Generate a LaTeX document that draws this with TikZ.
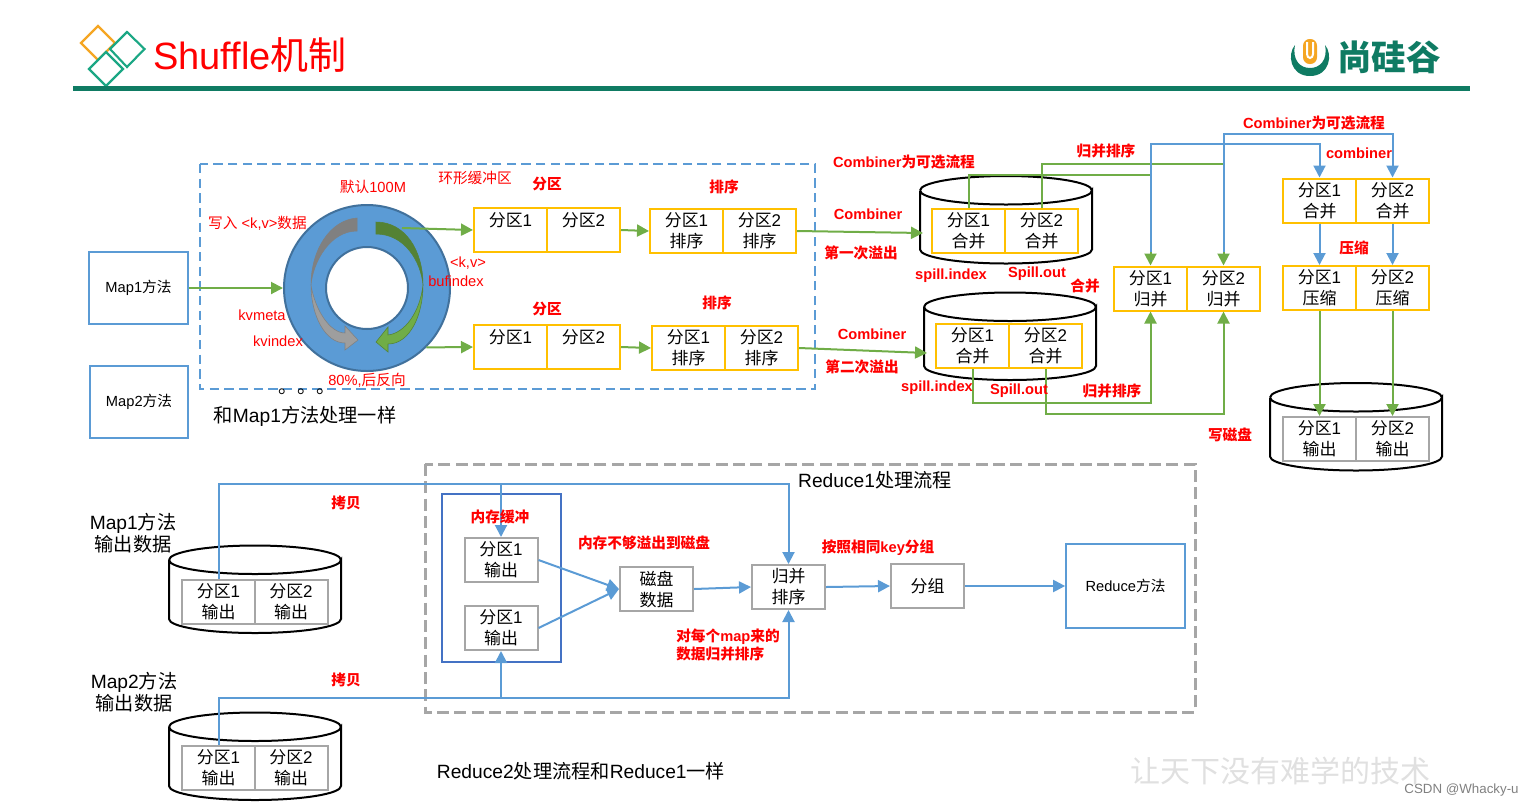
\documentclass[tikz,border=0pt]{standalone}
\usepackage{fontspec}
\setmainfont{Liberation Sans}
\newfontfamily\cjk{Noto Sans CJK SC}
\usetikzlibrary{arrows.meta}
\definecolor{tipblue}{HTML}{5B9BD5}
\definecolor{ringedge}{HTML}{41719C}
\definecolor{tipgreen}{HTML}{70AD47}
\definecolor{darkleaf}{HTML}{548235}
\definecolor{partyellow}{HTML}{FFC000}
\definecolor{boxgray}{HTML}{A6A6A6}
\definecolor{memblue}{HTML}{4472C4}
\definecolor{headline}{HTML}{0F7B63}
\definecolor{markorange}{HTML}{F5A623}
\definecolor{markteal}{HTML}{1BA784}
\newcommand{\zh}[1]{{\cjk #1}}
\newcommand{\partlabel}[2]{\zh{分区}#1\\\zh{#2}}
\newcommand{\diskshape}[2]{
\draw [line width=1.5pt,fill=white] (#1-86,#2) -- (#1-86,#2+59) arc (180:0:86 and 14) -- (#1+86,#2) arc (0:180:86 and 14);
\draw [line width=1.5pt] (#1-86,#2) arc (180:360:86 and 14.5);
}
\tikzset{
partbox/.style={draw=partyellow,line width=1.5pt,fill=white,minimum width=54.75pt,minimum height=33pt,inner sep=0pt,align=center,font=\fontsize{12.7}{15.75}\selectfont},
grayline/.style={partbox,draw=boxgray},
mapbox/.style={draw=tipblue,line width=1.5pt,minimum width=74pt,minimum height=54pt,inner sep=0pt,align=center,font=\fontsize{11}{14}\selectfont},
gline/.style={draw=tipgreen,line width=1.5pt},
bline/.style={draw=tipblue,line width=1.5pt},
garrow/.style={gline,-{Triangle[length=9pt,width=9pt]}},
barrow/.style={bline,-{Triangle[length=9pt,width=9pt]}},
redtext/.style={text=red,inner sep=0pt,align=left,font=\fontsize{11}{14}\selectfont},
redbold/.style={text=red,inner sep=0pt,align=left,font=\fontsize{11}{14}\selectfont\bfseries},
blacktext/.style={inner sep=0pt,align=center,font=\fontsize{14.4}{16.5}\selectfont},
}
\begin{document}
\begin{tikzpicture}[x=0.75pt,y=-0.75pt]
\useasboundingbox (0,0) rectangle (1531,808);

\draw [draw=markorange,line width=1.6pt] (98,26) -- (115,43) -- (98,60) -- (81,43) -- cycle;
\draw [draw=markteal,line width=1.6pt] (127,32) -- (144.5,49) -- (127,67) -- (110,49) -- cycle;
\draw [draw=markteal,line width=1.6pt,fill=white] (106,52) -- (123,69) -- (106,86) -- (89,69) -- cycle;
\node [text=red,inner sep=0pt,font=\fontsize{28.5}{30}\selectfont] (title) at (250,55) {Shuffle\zh{机制}};
\draw [draw=headline,line width=3.75pt] (73,88.5) -- (1470,88.5);

\fill [headline] (1295,45) .. controls (1287,54) and (1290,76) .. (1310,76) .. controls (1330,76) and (1333,54) .. (1325,45) .. controls (1328,60) and (1320,68) .. (1310,68) .. controls (1300,68) and (1292,60) .. (1295,45) -- cycle;
\fill [markorange,rounded corners=5pt] (1303,39) rectangle (1317,64);
\draw [draw=white,line width=1.5pt] (1307,42) -- (1307,54) arc (180:0:3 and 4) -- (1313,42);
\node [text=headline,inner sep=0pt,font=\fontsize{26}{28}\selectfont\bfseries] (brand) at (1389,57) {\zh{尚硅谷}};

\draw [draw=tipblue,line width=1.5pt,dash pattern=on 7pt off 4pt] (200,164) rectangle (815,389);

\node [mapbox] (map1) at (138.5,288) {Map1\zh{方法}};
\node [mapbox] (map2) at (139,401.5) {Map2\zh{方法}};

\node [circle,draw=ringedge,line width=1.5pt,fill=tipblue,minimum size=124.5pt,inner sep=0pt] (ring) at (367,288) {};
\node [circle,draw=ringedge,line width=1.5pt,fill=white,minimum size=61.5pt,inner sep=0pt] (hole) at (367,288) {};

\draw [draw=gray,fill=black!50] (357,218) .. controls (330,220) and (311,250) .. (311,285) .. controls (313,262) and (330,231) .. (357,231) -- cycle;
\draw [draw=gray,fill=black!38] (311,285) .. controls (311,315) and (325,343) .. (345,343) -- (345,350) -- (358,340) -- (345,326) -- (345,333) .. controls (330,333) and (315,310) .. (311,285) -- cycle;
\draw [draw=darkleaf,fill=tipgreen] (423,285) .. controls (423,315) and (410,344) .. (388,344) -- (388,352) -- (376,342) -- (388,327) -- (388,335) .. controls (405,333) and (420,312) .. (423,285) -- cycle;
\draw [draw=darkleaf,fill=darkleaf] (376,222) .. controls (405,222) and (423,250) .. (423,285) .. controls (421,262) and (405,234) .. (376,234) -- cycle;

\node [partbox] (s1a) at (510.5,230) {\partlabel{1}{}};
\node [partbox] (s1b) at (583.5,230) {\partlabel{2}{}};
\node [partbox] (r1a) at (686.5,231) {\partlabel{1}{排序}};
\node [partbox] (r1b) at (759.5,231) {\partlabel{2}{排序}};
\node [partbox] (s2a) at (510.5,347) {\partlabel{1}{}};
\node [partbox] (s2b) at (583.5,347) {\partlabel{2}{}};
\node [partbox] (r2a) at (688.5,348) {\partlabel{1}{排序}};
\node [partbox] (r2b) at (761.5,348) {\partlabel{2}{排序}};

\coordinate (ringout) at (402,228);
\coordinate (disk1in) at (923,233);
\coordinate (disk2in) at (927,353);

\draw [garrow] (map1.east) -- (ring.west);
\draw [garrow] (ringout) -- (s1a.west);
\draw [garrow] (ring.-45) -- (s2a.west);
\draw [garrow] (s1b.east) -- (r1a.west);
\draw [garrow] (s2b.east) -- (r2a.west);

\diskshape{1006}{190.5}
\diskshape{1010}{307}
\diskshape{1356}{397.5}

\draw [garrow] (r1b.east) -- (disk1in);
\draw [garrow] (r2b.east) -- (disk2in);

\node [partbox] (c1a) at (968.5,231) {\partlabel{1}{合并}};
\node [partbox] (c1b) at (1041.5,231) {\partlabel{2}{合并}};
\node [partbox] (c2a) at (972.5,346) {\partlabel{1}{合并}};
\node [partbox] (c2b) at (1045.5,346) {\partlabel{2}{合并}};
\node [partbox] (m1) at (1150.5,288.5) {\partlabel{1}{归并}};
\node [partbox] (m2) at (1223.5,288.5) {\partlabel{2}{归并}};
\node [partbox] (k1) at (1319.5,200.5) {\partlabel{1}{合并}};
\node [partbox] (k2) at (1392.5,200.5) {\partlabel{2}{合并}};
\node [partbox] (z1) at (1319.5,288) {\partlabel{1}{压缩}};
\node [partbox] (z2) at (1392.5,288) {\partlabel{2}{压缩}};
\node [grayline] (o1) at (1319.5,439) {\partlabel{1}{输出}};
\node [grayline] (o2) at (1392.5,439) {\partlabel{2}{输出}};

\draw [garrow] (c1a.north) -- (c1a.north |- 0,175) -| (m1.north);
\draw [garrow] (c1b.north) -- (c1b.north |- 0,164) -| (m2.north);
\draw [garrow] (c2a.south) -- (c2a.south |- 0,403) -| (m1.south);
\draw [garrow] (c2b.south) -- (c2b.south |- 0,414) -| (m2.south);
\draw [barrow,shorten <=10pt] (m1.north) -- (m1.north |- 0,144) -| (k1.north);
\draw [barrow,shorten <=10pt] (m2.north) -- (m2.north |- 0,134) -| (k2.north);
\draw [barrow] (k1.south) -- (z1.north);
\draw [barrow] (k2.south) -- (z2.north);
\draw [garrow] (z1.south) -- (o1.north);
\draw [garrow] (z2.south) -- (o2.north);

\draw [draw=boxgray,line width=2.25pt,dash pattern=on 9pt off 4pt] (425,464) rectangle (1195,712);
\draw [draw=memblue,line width=1.5pt] (442,494) rectangle (561,662);

\diskshape{255}{560}
\diskshape{255}{727}

\node [grayline] (a1) at (218.5,602) {\partlabel{1}{输出}};
\node [grayline] (a2) at (291,602) {\partlabel{2}{输出}};
\node [grayline] (b1) at (218.5,768) {\partlabel{1}{输出}};
\node [grayline] (b2) at (291,768) {\partlabel{2}{输出}};
\node [grayline] (buf1) at (501,560) {\partlabel{1}{输出}};
\node [grayline] (buf2) at (501,628) {\partlabel{1}{输出}};
\node [grayline] (mag) at (656.5,589) {\zh{磁盘}\\\zh{数据}};
\node [grayline] (sort) at (788.5,587) {\zh{归并}\\\zh{排序}};
\node [grayline] (grp) at (927.5,586) {\zh{分组}};
\node [mapbox,minimum width=89pt,minimum height=63pt] (red) at (1125.5,586) {Reduce\zh{方法}};

\draw [barrow] (a1.north) -- (a1.north |- 0,484) -| (buf1.north);
\draw [barrow] (a1.north |- 0,484) -| (sort.north);
\draw [barrow] (b1.north) -- (b1.north |- 0,698) -| (buf2.south);
\draw [barrow] (b1.north |- 0,698) -| (sort.south);
\draw [barrow] (buf1.east) -- (mag.west);
\draw [barrow] (buf2.east) -- (mag.west);
\draw [barrow] (mag.east) -- (sort.west);
\draw [barrow] (sort.east) -- (grp.west);
\draw [barrow] (grp.east) -- (red.west);

\node [redtext] (t1) at (373,187) {\zh{默认}100M};
\node [redtext] (t2) at (475,178) {\zh{环形缓冲区}};
\node [redtext] (t3) at (257.5,223) {\zh{写入} <k,v>\zh{数据}};
\node [redtext] (t4) at (468,263) {<k,v>};
\node [redtext] (t5) at (456,281) {bufindex};
\node [redtext] (t6) at (262,315) {kvmeta};
\node [redtext] (t7) at (278,341) {kvindex};
\node [redtext] (t8) at (367,380) {80\%,\zh{后反向}};

\node [redbold] (l1) at (547,184) {\zh{分区}};
\node [redbold] (l2) at (724,187) {\zh{排序}};
\node [redbold] (l3) at (547,309) {\zh{分区}};
\node [redbold] (l4) at (717,303) {\zh{排序}};
\node [redbold] (l5) at (904,162) {Combiner\zh{为可选流程}};
\node [redbold] (l6) at (868,214) {Combiner};
\node [redbold] (l7) at (861,253) {\zh{第一次溢出}};
\node [redbold] (l8) at (951,276) {spill.index};
\node [redbold] (l9) at (1037,274) {Spill.out};
\node [redbold] (l10) at (1085,286) {\zh{合并}};
\node [redbold] (l11) at (872,334) {Combiner};
\node [redbold] (l12) at (862,367) {\zh{第二次溢出}};
\node [redbold] (l13) at (937,388) {spill.index};
\node [redbold] (l14) at (1019,391) {Spill.out};
\node [redbold] (l15) at (1112,391) {\zh{归并排序}};
\node [redbold] (l16) at (1106,151) {\zh{归并排序}};
\node [redbold] (l17) at (1314,123) {Combiner\zh{为可选流程}};
\node [redbold] (l18) at (1359,153) {combiner};
\node [redbold] (l19) at (1354,248) {\zh{压缩}};
\node [redbold] (l20) at (1230,435) {\zh{写磁盘}};
\node [redbold] (l21) at (346,503) {\zh{拷贝}};
\node [redbold] (l22) at (346,680) {\zh{拷贝}};
\node [redbold] (l23) at (500,517) {\zh{内存缓冲}};
\node [redbold] (l24) at (644,543) {\zh{内存不够溢出到磁盘}};
\node [redbold] (l25) at (878,548) {\zh{按照相同}key\zh{分组}};
\node [redbold] (l26) at (728,645) {\zh{对每个}map\zh{来的}\\\zh{数据归并排序}};

\node [blacktext] (same) at (305,416) {\zh{和}Map1\zh{方法处理一样}};
\node [blacktext] (dots) at (307,392) {\zh{。。。}};
\node [blacktext] (head) at (875,480) {Reduce1\zh{处理流程}};
\node [blacktext] (outa) at (133,533) {Map1\zh{方法}\\\zh{输出数据}};
\node [blacktext] (outb) at (134,692) {Map2\zh{方法}\\\zh{输出数据}};
\node [blacktext] (same2) at (581,771) {Reduce2\zh{处理流程和}Reduce1\zh{一样}};

\node [text=black!12,inner sep=0pt,font=\fontsize{22.5}{24}\selectfont] (motto) at (1280,771) {\zh{让天下没有难学的技术}};
\node [text=gray,inner sep=0pt,font=\fontsize{10}{12}\selectfont] (mark) at (1461.5,790.5) {CSDN @Whacky-u};
\end{tikzpicture}
\end{document}
